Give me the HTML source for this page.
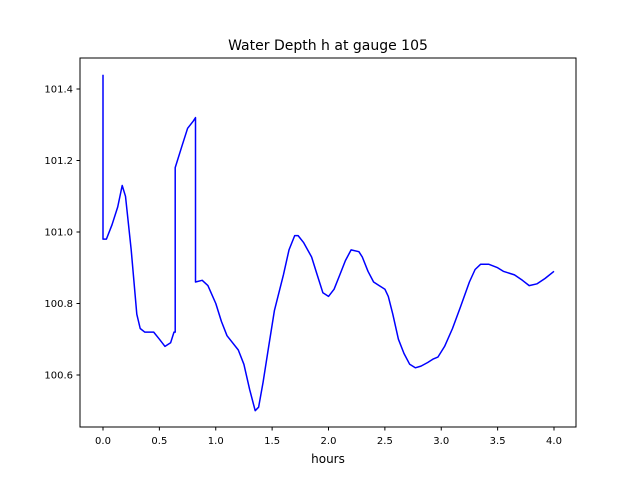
<!DOCTYPE html>
<html><head><meta charset="utf-8"><style>body{margin:0;background:#fff}svg{font-family:"DejaVu Sans","Liberation Sans",sans-serif}</style></head>
<body>
<svg id="chart" width="640" height="480">
<rect width="640" height="480" fill="#fff"/>
<text x="328" y="50" font-size="14" text-anchor="middle">Water Depth h at gauge 105</text>
<g id="ticks"></g>
<path id="line" fill="none" stroke="#0000ff" stroke-width="1.5" stroke-linejoin="round"/>
<rect x="80" y="58" width="496" height="369" fill="none" stroke="#000" stroke-width="1"/>
<text x="328" y="463" font-size="12" text-anchor="middle">hours</text>
</svg>
<script>
const hours=[0,0,0.03,0.08,0.13,0.17,0.2,0.25,0.3,0.33,0.37,0.45,0.5,0.55,0.6,0.63,0.64,0.64,0.7,0.75,0.8,0.82,0.82,0.88,0.93,1.0,1.05,1.1,1.2,1.25,1.3,1.35,1.38,1.42,1.47,1.52,1.6,1.65,1.7,1.73,1.78,1.85,1.9,1.95,2.0,2.05,2.1,2.15,2.2,2.27,2.3,2.35,2.4,2.45,2.5,2.53,2.57,2.62,2.67,2.72,2.77,2.82,2.88,2.93,2.97,3.03,3.1,3.17,3.25,3.3,3.35,3.42,3.5,3.55,3.65,3.72,3.78,3.85,3.92,4.0];
const depth=[101.44,100.98,100.98,101.02,101.07,101.13,101.1,100.95,100.77,100.73,100.72,100.72,100.70,100.68,100.69,100.72,100.72,101.18,101.24,101.29,101.31,101.32,100.86,100.865,100.85,100.80,100.75,100.71,100.67,100.63,100.56,100.50,100.51,100.58,100.68,100.78,100.88,100.95,100.99,100.99,100.97,100.93,100.88,100.83,100.82,100.84,100.88,100.92,100.95,100.945,100.93,100.89,100.86,100.85,100.84,100.82,100.77,100.70,100.66,100.63,100.62,100.625,100.635,100.645,100.65,100.68,100.73,100.79,100.86,100.895,100.91,100.91,100.90,100.89,100.88,100.865,100.85,100.855,100.87,100.89];
const xTicks=[0,0.5,1.0,1.5,2.0,2.5,3.0,3.5,4.0];
const yTicks=[100.6,100.8,101.0,101.2,101.4];
const X=v=>103+v*112.75;
const Y=v=>375-(v-100.6)/0.2*71.5;
const NS="http://www.w3.org/2000/svg";
const g=document.getElementById('ticks');
function mk(t,a){const e=document.createElementNS(NS,t);for(const k in a)e.setAttribute(k,a[k]);g.appendChild(e);return e;}
xTicks.forEach(v=>{
 const l=mk('line',{x1:X(v),x2:X(v),y1:427,y2:430.5,stroke:'#000'});
 
 
 const t=mk('text',{x:X(v),y:444,'font-size':10,'text-anchor':'middle'});t.textContent=v.toFixed(1);
 
 
});
yTicks.forEach(v=>{
 const l=mk('line',{x1:76.5,x2:80,y1:Y(v),y2:Y(v),stroke:'#000'});
 
 
 const t=mk('text',{x:73,y:Y(v)+3.5,'font-size':10,'text-anchor':'end'});t.textContent=v.toFixed(1);
 
 
});
document.getElementById('line').setAttribute('d',hours.map((h,i)=>(i?'L':'M')+X(h).toFixed(1)+','+Y(depth[i]).toFixed(1)).join(''));
</script>
</body></html>
